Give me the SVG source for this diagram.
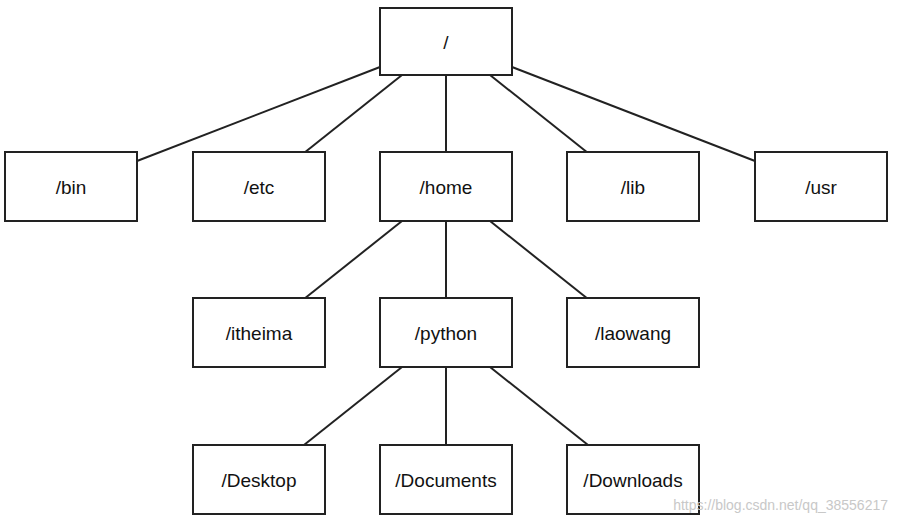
<svg xmlns="http://www.w3.org/2000/svg" width="897" height="524" viewBox="0 0 897 524">
<style>
rect{fill:#fff;stroke:#222;stroke-width:2}
text{font-family:"Liberation Sans",Arial,sans-serif;font-size:19px;fill:#111;text-anchor:middle;dominant-baseline:central}
#connectors line{stroke:#222;stroke-width:2}
</style>
<rect x="0" y="0" width="897" height="524" style="stroke:none"/>
<g id="connectors">
<line x1="380" y1="67" x2="137" y2="161"/>
<line x1="402" y1="75" x2="304" y2="153"/>
<line x1="446" y1="75" x2="446" y2="152"/>
<line x1="490" y1="75" x2="588" y2="153"/>
<line x1="512" y1="67" x2="755" y2="161"/>
<line x1="402" y1="221" x2="304" y2="299"/>
<line x1="446" y1="221" x2="446" y2="298"/>
<line x1="490" y1="221" x2="588" y2="299"/>
<line x1="402" y1="367" x2="304" y2="445"/>
<line x1="446" y1="367" x2="446" y2="445"/>
<line x1="490" y1="367" x2="588" y2="445"/>
</g>
<g id="root"><rect x="380" y="8" width="132" height="67"/><text x="446" y="42">/</text></g>
<g id="bin"><rect x="5" y="152" width="132" height="69"/><text x="71" y="187">/bin</text></g>
<g id="etc"><rect x="193" y="152" width="132" height="69"/><text x="259" y="187">/etc</text></g>
<g id="home"><rect x="380" y="152" width="132" height="69"/><text x="446" y="187">/home</text></g>
<g id="lib"><rect x="567" y="152" width="132" height="69"/><text x="633" y="187">/lib</text></g>
<g id="usr"><rect x="755" y="152" width="132" height="69"/><text x="821" y="187">/usr</text></g>
<g id="itheima"><rect x="193" y="298" width="132" height="69"/><text x="259" y="333">/itheima</text></g>
<g id="python"><rect x="380" y="298" width="132" height="69"/><text x="446" y="333">/python</text></g>
<g id="laowang"><rect x="567" y="298" width="132" height="69"/><text x="633" y="333">/laowang</text></g>
<g id="desktop"><rect x="193" y="445" width="132" height="69"/><text x="259" y="480">/Desktop</text></g>
<g id="documents"><rect x="380" y="445" width="132" height="69"/><text x="446" y="480">/Documents</text></g>
<g id="downloads"><rect x="567" y="445" width="132" height="69"/><text x="633" y="480">/Downloads</text></g>
<text x="888" y="505" style="text-anchor:end;font-size:14px;fill:#c8c8c8">https://blog.csdn.net/qq_38556217</text>
</svg>
